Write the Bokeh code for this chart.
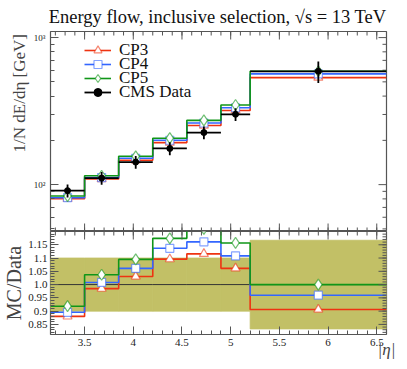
from bokeh.plotting import figure
from bokeh.models import FixedTicker, Legend, LegendItem, Range1d
from bokeh.layouts import column
from bokeh.embed import file_html
from bokeh.resources import INLINE
import math

# ---------------- data ----------------
bin_edges = [3.15, 3.5, 3.85, 4.2, 4.55, 4.9, 5.2, 6.6]
data_vals = [91.0, 110.8, 142.3, 176.2, 226.1, 300.9, 590.0]
data_rel_err = [0.10, 0.10, 0.10, 0.10, 0.10, 0.10, 0.167]
cp3_vals = [80.1, 109.1, 146.6, 193.1, 252.3, 319.3, 534.5]
cp4_vals = [81.5, 111.7, 151.0, 200.3, 262.5, 333.4, 566.4]
cp5_vals = [83.6, 114.9, 155.8, 206.9, 273.6, 348.1, 590.0]
series_names = ["CP3", "CP4", "CP5"]
data_name = "CMS Data"
x_ticks = [3.5, 4.0, 4.5, 5.0, 5.5, 6.0, 6.5]
x_tick_labels = ["3.5", "4", "4.5", "5", "5.5", "6", "6.5"]
ratio_ticks = [0.85, 0.9, 0.95, 1.0, 1.05, 1.1, 1.15]
ratio_tick_labels = ["0.85", "0.9", "0.95", "1.0", "1.05", "1.1", "1.15"]
log_ticks = [100, 1000]
log_tick_labels = ["10²", "10³"]

# ---------------- style ----------------
FONT = "Liberation Serif"
FRAME = "#555555"
COLORS = ["#EE3311", "#3366FF", "#109618"]
MARKERS = ["triangle", "square", "diamond"]
MSIZES = [9, 8, 11]
BAND = "#c2c066"

W = 398
H1 = 231
H2 = 130
XR = (3.15, 6.6)
YR1 = (48, 1100)
YR2 = (0.812, 1.2)

centers = [(a + b) / 2 for a, b in zip(bin_edges[:-1], bin_edges[1:])]
minor_x = [round(3.2 + 0.1 * i, 2) for i in range(34)]
minor_log = [50, 60, 70, 80, 90, 200, 300, 400, 500, 600, 700, 800, 900]
minor_ratio = [round(0.82 + 0.01 * i, 2) for i in range(38)]


def style_axis(ax, size):
    ax.axis_line_color = None
    ax.major_tick_line_color = FRAME
    ax.minor_tick_line_color = FRAME
    ax.major_tick_in = 8
    ax.major_tick_out = 0
    ax.minor_tick_in = 4
    ax.minor_tick_out = 0
    ax.major_label_text_font = FONT
    ax.major_label_text_font_size = size
    ax.major_label_text_color = "#222222"


def mirror_ticks(p, xs_major, xs_minor, ys_major, ys_minor, xr, yr, top=True, bottom=False):
    """tick marks on the frame edges without labels (dash markers clipped by the frame)"""
    edges_y = []
    if top:
        edges_y.append(yr[1])
    if bottom:
        edges_y.append(yr[0])
    for ey in edges_y:
        p.scatter(x=xs_major, y=[ey] * len(xs_major), marker="dash", angle=math.pi / 2,
                  size=16, line_color=FRAME, line_width=1)
        p.scatter(x=xs_minor, y=[ey] * len(xs_minor), marker="dash", angle=math.pi / 2,
                  size=8, line_color=FRAME, line_width=1)
    p.scatter(x=[xr[1]] * len(ys_major), y=ys_major, marker="dash",
              size=16, line_color=FRAME, line_width=1)
    p.scatter(x=[xr[1]] * len(ys_minor), y=ys_minor, marker="dash",
              size=8, line_color=FRAME, line_width=1)


# ---------------- upper panel ----------------
p1 = figure(width=W, height=H1, y_axis_type="log", x_axis_location=None,
            x_range=Range1d(*XR), y_range=Range1d(*YR1),
            output_backend="svg", toolbar_location=None,
            min_border_left=43, min_border_right=12, min_border_top=30,
            min_border_bottom=0)
p1.grid.visible = False
p1.outline_line_color = FRAME
p1.outline_line_width = 1.2

p1.title.text = "Energy flow, inclusive selection, \u221as = 13 TeV"
p1.title.align = "right"
p1.title.text_font = FONT
p1.title.text_font_size = "18.5px"
p1.title.text_font_style = "normal"
p1.title.text_color = "#111111"
p1.title.standoff = 9

ly = p1.yaxis[0]
ly.ticker = FixedTicker(ticks=log_ticks, minor_ticks=minor_log)
ly.major_label_overrides = dict(zip(log_ticks, log_tick_labels))
style_axis(ly, "9px")
ly.major_label_standoff = 5
# leading no-break spaces lift the label towards the top of the panel, as in the reference
ly.axis_label = "\u00a0" * 18 + "1/N dE/d\u03b7 [GeV]"
ly.axis_label_text_font = FONT
ly.axis_label_text_font_size = "17px"
ly.axis_label_text_font_style = "normal"
ly.axis_label_standoff = 2

mirror_ticks(p1, x_ticks, minor_x, log_ticks, minor_log, XR, YR1, top=True, bottom=True)

legend_rows = []
for vals, name, col, mk, ms in zip([cp3_vals, cp4_vals, cp5_vals], series_names,
                                   COLORS, MARKERS, MSIZES):
    st = p1.step(x=bin_edges, y=vals + [vals[-1]], mode="after",
                 line_color=col, line_width=1.6)
    sc = p1.scatter(x=centers, y=vals, marker=mk, size=ms,
                    line_color=col, line_alpha=0.6, fill_color="white",
                    line_width=1.2)
    legend_rows.append((name, [st, sc]))

# data with error bars
d_lo = [v * (1 - e) for v, e in zip(data_vals, data_rel_err)]
d_hi = [v * (1 + e) for v, e in zip(data_vals, data_rel_err)]
ds1 = p1.segment(x0=bin_edges[:-1], x1=bin_edges[1:], y0=data_vals, y1=data_vals,
                 line_color="black", line_width=1.8)
ds2 = p1.segment(x0=centers, x1=centers, y0=d_lo, y1=d_hi,
                 line_color="black", line_width=1.8)
dsc = p1.scatter(x=centers, y=data_vals, marker="circle", size=6,
                 fill_color="black", line_color="black")
legend_rows.append((data_name, [ds1, dsc]))

# one legend per row, for exact row spacing
row_centers = [19.5, 33.5, 47.5, 61.5]
for (name, rends), c in zip(legend_rows, row_centers):
    lg = Legend(items=[LegendItem(label=name, renderers=rends)],
                location=(34, 201 - c - 10), padding=0, margin=0,
                border_line_color=None, background_fill_alpha=0,
                glyph_width=27, glyph_height=20, label_height=20,
                label_standoff=8, label_text_font=FONT,
                label_text_font_size="17px", label_text_color="#111111")
    p1.add_layout(lg, "center")

# ---------------- lower panel (ratio) ----------------
p2 = figure(width=W, height=H2, x_range=p1.x_range, y_range=Range1d(*YR2),
            output_backend="svg", toolbar_location=None,
            min_border_left=43, min_border_right=12, min_border_top=0,
            min_border_bottom=27)
p2.grid.visible = False
p2.outline_line_color = FRAME
p2.outline_line_width = 1.2

band_lo = [1 - e for e in data_rel_err]
band_hi = [1 + e for e in data_rel_err]
p2.quad(left=bin_edges[:-1], right=bin_edges[1:], bottom=band_lo, top=band_hi,
        fill_color=BAND, line_color=BAND, line_width=0.8)
ratio_data = [v / v for v in data_vals]
p2.step(x=bin_edges, y=ratio_data + [ratio_data[-1]], mode="after",
        line_color="#333333", line_width=1.0)
for vals, col, mk, ms in zip([cp3_vals, cp4_vals, cp5_vals], COLORS, MARKERS, MSIZES):
    r = [m / d for m, d in zip(vals, data_vals)]
    p2.step(x=bin_edges, y=r + [r[-1]], mode="after", line_color=col, line_width=1.6)
    p2.scatter(x=centers, y=r, marker=mk, size=ms, line_color=col, line_alpha=0.6,
               fill_color="white", line_width=1.2)

mirror_ticks(p2, x_ticks, minor_x, ratio_ticks, minor_ratio, XR, YR2, top=True)

lx = p2.xaxis[0]
lx.ticker = FixedTicker(ticks=x_ticks, minor_ticks=minor_x)
lx.major_label_overrides = dict(zip(x_ticks, x_tick_labels))
style_axis(lx, "11px")
lx.major_label_standoff = 4
lx.axis_label = "|\u03b7|"
lx.axis_label_align = "end"
lx.axis_label_text_font = FONT
lx.axis_label_text_font_size = "17px"
lx.axis_label_text_font_style = "italic"
lx.axis_label_standoff = -9

ry2 = p2.yaxis[0]
ry2.ticker = FixedTicker(ticks=ratio_ticks, minor_ticks=minor_ratio)
ry2.major_label_overrides = dict(zip(ratio_ticks, ratio_tick_labels))
style_axis(ry2, "11px")
ry2.major_label_standoff = 3
ry2.axis_label = "MC/Data"
ry2.axis_label_text_font = FONT
ry2.axis_label_text_font_size = "20px"
ry2.axis_label_text_font_style = "normal"
ry2.axis_label_standoff = 0

layout = column(p1, p2, spacing=0, width=W, height=H1 + H2)
open("out.html", "w").write(file_html(layout, INLINE))
